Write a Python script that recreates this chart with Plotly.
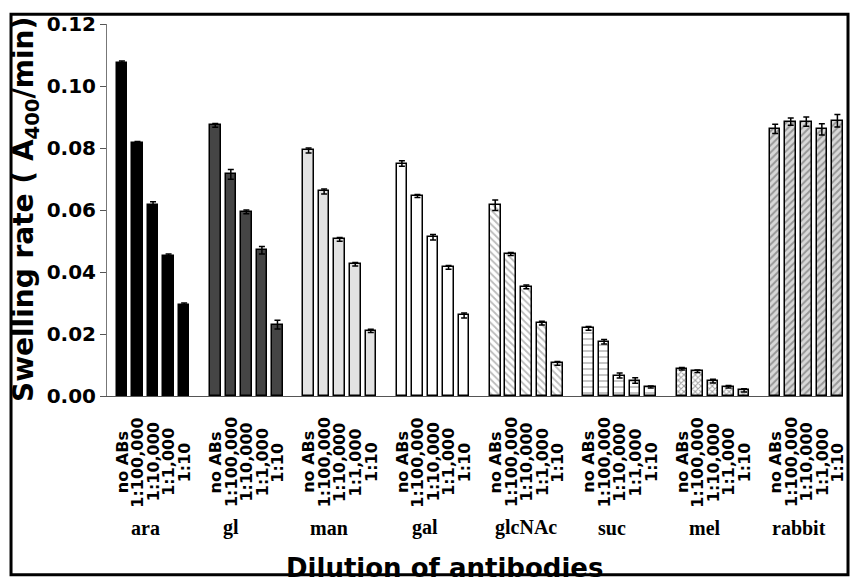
import plotly.graph_objects as go

# ---- data ----
groups = ["ara", "gl", "man", "gal", "glcNAc", "suc", "mel", "rabbit"]
dilutions = ["no ABs", "1:100,000", "1:10,000", "1:1,000", "1:10"]
y_ticks = [0.00, 0.02, 0.04, 0.06, 0.08, 0.10, 0.12]

ara = [0.1075, 0.0815, 0.0615, 0.0452, 0.0292]
gl = [0.0873, 0.0715, 0.0594, 0.0470, 0.0230]
man = [0.0792, 0.0660, 0.0505, 0.0425, 0.0210]
gal = [0.0750, 0.0645, 0.0512, 0.0415, 0.0260]
glcNAc = [0.0615, 0.0458, 0.0352, 0.0235, 0.0105]
suc = [0.0218, 0.0175, 0.0066, 0.0050, 0.0029]
mel = [0.0088, 0.0080, 0.0048, 0.0030, 0.0018]
rabbit = [0.0862, 0.0885, 0.0885, 0.0860, 0.0888]

ara_err = [0.0006, 0.0006, 0.0012, 0.0006, 0.0008]
gl_err = [0.0006, 0.0016, 0.0006, 0.0012, 0.0014]
man_err = [0.0008, 0.0008, 0.0006, 0.0006, 0.0005]
gal_err = [0.0009, 0.0005, 0.0009, 0.0006, 0.0008]
glcNAc_err = [0.0017, 0.0005, 0.0006, 0.0006, 0.0006]
suc_err = [0.0006, 0.0007, 0.0008, 0.0009, 0.0003]
mel_err = [0.0004, 0.0004, 0.0006, 0.0004, 0.0005]
rabbit_err = [0.0015, 0.0012, 0.0015, 0.0018, 0.0020]

values = [ara, gl, man, gal, glcNAc, suc, mel, rabbit]
errors = [ara_err, gl_err, man_err, gal_err, glcNAc_err, suc_err, mel_err, rabbit_err]

# ---- styles ----
styles = [
    dict(color="#000000", pattern=None),
    dict(color="#454545", pattern=None),
    dict(color="#e2e2e2", pattern=None),
    dict(color="#ffffff", pattern=None),
    dict(color="#ffffff", pattern=dict(shape="\\", fgcolor="#777777", bgcolor="#ffffff", size=5, solidity=0.35)),
    dict(color="#ffffff", pattern=dict(shape="-", fgcolor="#666666", bgcolor="#ffffff", size=6, solidity=0.25)),
    dict(color="#ffffff", pattern=dict(shape="x", fgcolor="#444444", bgcolor="#ffffff", size=4, solidity=0.45)),
    dict(color="#ffffff", pattern=dict(shape="/", fgcolor="#555555", bgcolor="#d8d8d8", size=5, solidity=0.4)),
]

SLOT = 6  # 5 bars + 1 gap per group

fig = go.Figure()
for g, (name, vals, errs, st) in enumerate(zip(groups, values, errors, styles)):
    xs = [g * SLOT + i for i in range(len(vals))]
    marker = dict(color=st["color"], line=dict(color="#000000", width=1.5))
    if st["pattern"] is not None:
        marker["pattern"] = st["pattern"]
    fig.add_trace(go.Bar(
        x=xs, y=vals, name=name, width=0.68, marker=marker,
        error_y=dict(type="data", array=errs, visible=True, color="#000000",
                     thickness=1.5, width=3),
        showlegend=False,
    ))

annotations = []
# rotated dilution labels under each bar
for g in range(len(groups)):
    for i, lab in enumerate(dilutions):
        annotations.append(dict(
            x=g * SLOT + i, y=-0.178, xref="x", yref="paper",
            text=lab, textangle=-90, showarrow=False,
            xanchor="center", yanchor="middle",
            font=dict(family="DejaVu Sans", size=16, color="#000000", weight="bold"),
        ))
# group labels
label_shift = [1.5, 1.0, 1.3, 1.5, 2.0, 1.5, 1.5, 1.5]
for g, name in enumerate(groups):
    annotations.append(dict(
        x=g * SLOT + label_shift[g], y=-0.3536, xref="x", yref="paper",
        text=name, showarrow=False, xanchor="center", yanchor="middle",
        font=dict(family="Liberation Serif", size=20, color="#000000", weight="bold"),
    ))
# axis titles
annotations.append(dict(
    x=-0.1114, y=0.5, xref="paper", yref="paper",
    text="Swelling rate ( A<sub>400</sub>/min)", textangle=-90, showarrow=False,
    xanchor="center", yanchor="middle",
    font=dict(family="DejaVu Sans", size=28, color="#000000", weight="bold"),
))
annotations.append(dict(
    x=0.458, y=-0.462, xref="paper", yref="paper",
    text="Dilution of antibodies", showarrow=False,
    xanchor="center", yanchor="middle",
    font=dict(family="DejaVu Sans", size=26, color="#000000", weight="bold"),
))

fig.update_layout(
    width=858, height=582, autosize=False,
    margin=dict(l=107, r=15, t=17, b=186),
    paper_bgcolor="#ffffff", plot_bgcolor="#ffffff",
    bargap=0,
    annotations=annotations,
    shapes=[dict(type="rect", xref="paper", yref="paper",
                 x0=-0.1304, x1=1.0068, y0=-0.4802, y1=1.0264,
                 line=dict(color="#000000", width=3), layer="above")],
)
fig.update_xaxes(
    range=[-0.96, 46.36], showgrid=False, zeroline=False,
    showline=True, linecolor="#555555", linewidth=1.2,
    showticklabels=False, ticks="",
)
fig.update_yaxes(
    range=[0, 0.12], tickvals=y_ticks, tickformat=".2f",
    showgrid=False, zeroline=False,
    showline=True, linecolor="#777777", linewidth=1,
    ticks="outside", ticklen=6, tickcolor="#555555", tickwidth=1,
    tickfont=dict(family="DejaVu Sans", size=20, color="#000000", weight="bold"),
)

fig.write_html("out.html")
